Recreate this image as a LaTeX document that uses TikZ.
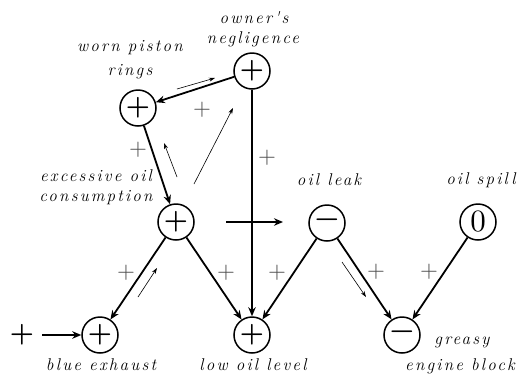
\documentclass[tikz,border=0pt]{standalone}
\usepackage{fontspec}
\usetikzlibrary{arrows.meta}
\newfontfamily\labfont{lmroman12-italic.otf}[LetterSpace=13]
\newfontfamily\symfont{lmroman10-regular.otf}
\newfontfamily\symbfont{lmroman10-bold.otf}
\begin{document}
\begin{tikzpicture}[x=1pt,y=-1pt,
  state/.style={circle,draw,line width=1.5pt,minimum size=36pt,inner sep=0pt,font=\fontsize{27}{27}\symbfont},
  lab/.style={font=\fontsize{17}{19}\labfont,align=center,inner sep=0pt},
  sgn/.style={text=black!70,font=\fontsize{23}{23}\symfont,inner sep=0pt},
  edge/.style={line width=1.8pt,-{Stealth[length=9pt,width=7.5pt]}},
  trace/.style={line width=0.6pt,-{Stealth[length=6pt,width=4pt]}}]
\useasboundingbox (0,0) rectangle (523,376);
% states
\node[state] (own) at (252,71) {+};
\node[state] (worn) at (138,108) {+};
\node[state] (exc) at (176,222) {+};
\node[state] (leak) at (327,223) {−};
\node[state] (spill) at (478,222) {\fontsize{31}{31}\symfont 0};
\node[state] (blue) at (100,335) {+};
\node[state] (low) at (252,335) {+};
\node[state] (grease) at (402,335) {−};
% labels
\node[lab] (lown) at (254,18) {owner's};
\node[lab] (lneg) at (253,39) {negligence};
\node[lab] (lworn) at (130,48) {worn piston};
\node[lab] (lrings) at (130,72) {rings};
\node[lab] (lexc) at (96,176) {excessive oil};
\node[lab] (lcons) at (96,198) {consumption};
\node[lab] (lleak) at (329,180) {oil leak};
\node[lab] (lspill) at (481,180) {oil spill};
\node[lab] (lblue) at (101,365) {blue exhaust};
\node[lab] (llow) at (253,365) {low oil level};
\node[lab] (lgr) at (462,342) {greasy};
\node[lab] (leng) at (460,366) {engine block};
% causal edges
\draw[edge] (own) -- (worn);
\draw[edge] (worn) -- (exc);
\draw[edge] (own) -- (low);
\draw[edge] (exc) -- (blue);
\draw[edge] (exc) -- (low);
\draw[edge] (leak) -- (low);
\draw[edge] (leak) -- (grease);
\draw[edge] (spill) -- (grease);
% external input
\node[inner sep=0pt,font=\fontsize{27}{27}\symbfont] (inp) at (22,335) {+};
\coordinate (inpS) at (42,335);
\draw[edge] (inpS) -- (blue);
% horizontal crossing arrow
\coordinate (hA) at (226,222);
\coordinate (hB) at (283,222);
\draw[edge] (hA) -- (hB);
% edge signs
\node[sgn] (s1) at (202,110) {+};
\node[sgn] (s2) at (138,150) {+};
\node[sgn] (s3) at (267,158) {+};
\node[sgn] (s4) at (126,273) {+};
\node[sgn] (s5) at (226,273) {+};
\node[sgn] (s6) at (277,273) {+};
\node[sgn] (s7) at (376,272) {+};
\node[sgn] (s8) at (429,272) {+};
% trace arrows
\coordinate (t1a) at (177,89);  \coordinate (t1b) at (215,78);
\coordinate (t2a) at (177,177); \coordinate (t2b) at (164,143);
\coordinate (t3a) at (194,184); \coordinate (t3b) at (233,108);
\coordinate (t4a) at (138,297); \coordinate (t4b) at (157,268);
\coordinate (t5a) at (342,262); \coordinate (t5b) at (366,297);
\draw[trace] (t1a) -- (t1b);
\draw[trace] (t2a) -- (t2b);
\draw[trace] (t3a) -- (t3b);
\draw[trace] (t4a) -- (t4b);
\draw[trace] (t5a) -- (t5b);
\end{tikzpicture}
\end{document}
